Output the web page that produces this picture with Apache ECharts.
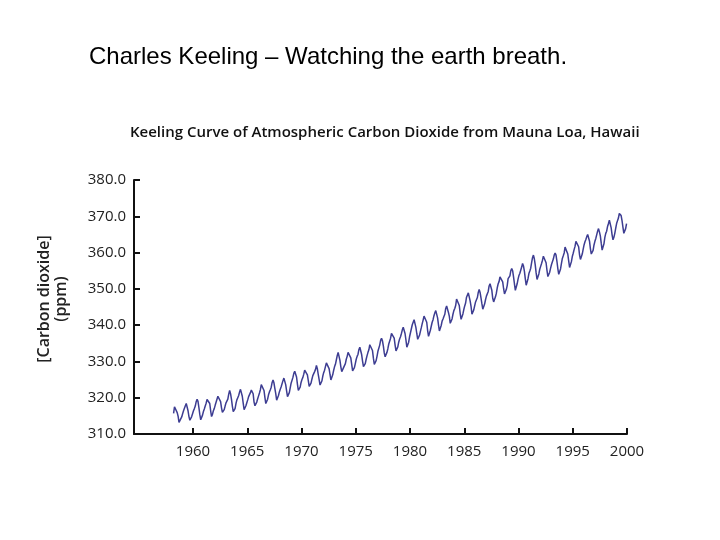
<!DOCTYPE html>
<html>
<head>
<meta charset="utf-8">
<script src="https://cdn.jsdelivr.net/npm/echarts@6/dist/echarts.min.js"></script>
<style>
html,body{margin:0;padding:0;background:#fff;}
#chart{width:720px;height:540px;}
</style>
</head>
<body>
<div id="chart"></div>
<script>
// Monthly CO2 (ppm) at Mauna Loa
const startYear = 1958;
const startMonth = 3; // first value is March 1958
const co2_1958 = [315.7, 317.5, 317.5, 317.1, 315.9, 314.9, 313.2, 312.7, 313.3, 314.7];
const co2_1959 = [315.6, 316.4, 316.7, 317.8, 318.4, 318.0, 316.4, 314.8, 313.8, 313.3, 314.8, 315.6];
const co2_1960 = [316.4, 317.0, 317.7, 318.9, 319.6, 319.0, 317.3, 315.4, 313.9, 313.9, 315.2, 316.2];
const co2_1961 = [316.9, 317.7, 318.5, 319.5, 320.0, 319.4, 318.4, 316.4, 314.8, 315.4, 316.4, 317.0];
const co2_1962 = [317.9, 318.4, 319.6, 320.4, 320.9, 320.4, 318.9, 317.2, 316.0, 315.5, 316.7, 317.7];
const co2_1963 = [318.6, 318.9, 319.6, 321.0, 322.0, 321.1, 319.6, 317.7, 316.2, 316.1, 317.0, 318.4];
const co2_1964 = [319.4, 320.0, 320.6, 321.6, 322.3, 321.9, 320.4, 318.5, 316.7, 316.7, 317.8, 318.6];
const co2_1965 = [319.4, 320.3, 320.7, 321.4, 322.1, 321.7, 321.1, 318.8, 317.8, 317.4, 318.8, 319.7];
const co2_1966 = [320.5, 321.3, 322.2, 323.6, 324.0, 323.3, 322.0, 320.1, 318.4, 318.3, 319.6, 320.8];
const co2_1967 = [321.6, 322.2, 322.9, 324.2, 324.9, 324.1, 322.6, 321.1, 319.3, 319.2, 320.6, 321.6];
const co2_1968 = [322.3, 323.0, 323.5, 324.7, 325.4, 325.1, 323.6, 321.9, 320.3, 320.3, 321.4, 322.7];
const co2_1969 = [324.0, 324.4, 325.6, 326.7, 327.3, 326.8, 325.7, 323.7, 322.0, 321.8, 322.9, 324.2];
const co2_1970 = [325.0, 325.6, 326.5, 327.6, 327.8, 327.5, 326.3, 324.7, 323.1, 323.1, 324.0, 325.1];
const co2_1971 = [326.1, 326.6, 327.2, 327.8, 328.9, 328.0, 326.4, 325.0, 323.5, 323.1, 324.6, 325.9];
const co2_1972 = [326.9, 327.6, 327.8, 329.6, 330.0, 329.2, 328.0, 326.4, 324.9, 325.1, 326.3, 327.5];
const co2_1973 = [328.5, 329.2, 330.4, 331.6, 332.5, 332.0, 330.3, 328.5, 327.2, 327.4, 328.3, 328.8];
const co2_1974 = [329.4, 330.6, 331.4, 332.5, 332.9, 332.2, 331.0, 329.2, 327.4, 327.3, 328.3, 329.4];
const co2_1975 = [330.6, 331.4, 332.0, 333.3, 333.9, 333.5, 331.9, 330.1, 328.6, 328.4, 329.4, 330.6];
const co2_1976 = [331.6, 332.5, 333.2, 334.6, 334.9, 334.3, 333.0, 330.9, 329.2, 328.9, 330.2, 331.4];
const co2_1977 = [332.8, 333.2, 334.5, 335.8, 336.4, 335.7, 334.3, 332.4, 331.3, 331.1, 332.5, 333.5];
const co2_1978 = [334.8, 335.2, 336.4, 337.7, 338.0, 337.9, 336.4, 334.5, 332.9, 332.9, 334.0, 335.3];
const co2_1979 = [336.2, 336.8, 337.7, 338.7, 339.4, 339.0, 337.7, 335.9, 333.9, 334.1, 335.3, 336.8];
const co2_1980 = [337.9, 338.4, 340.1, 340.8, 341.5, 341.3, 339.4, 337.7, 336.1, 336.0, 337.2, 338.3];
const co2_1981 = [339.3, 340.4, 341.4, 342.5, 343.0, 342.3, 340.8, 338.5, 336.9, 337.2, 338.6, 339.7];
const co2_1982 = [340.8, 341.5, 342.6, 343.4, 344.0, 343.5, 342.0, 340.1, 338.4, 338.6, 339.9, 341.1];
const co2_1983 = [341.7, 342.4, 343.0, 344.6, 345.3, 344.9, 343.5, 342.4, 340.5, 340.4, 341.7, 343.0];
const co2_1984 = [344.0, 344.6, 345.4, 347.2, 347.4, 346.7, 345.4, 343.2, 341.6, 341.5, 343.1, 344.3];
const co2_1985 = [345.3, 346.1, 347.7, 348.2, 348.9, 348.4, 346.7, 345.2, 343.0, 343.0, 344.2, 345.3];
const co2_1986 = [346.4, 347.0, 347.6, 349.0, 349.8, 349.0, 347.5, 345.9, 344.4, 344.5, 345.8, 347.0];
const co2_1987 = [348.0, 348.5, 349.3, 350.8, 351.4, 351.1, 349.6, 347.4, 346.4, 346.4, 347.8, 348.8];
const co2_1988 = [350.3, 351.4, 352.0, 353.3, 353.8, 353.0, 351.9, 350.1, 348.6, 348.6, 349.8, 350.9];
const co2_1989 = [352.8, 353.3, 353.6, 355.0, 355.6, 355.0, 353.3, 351.4, 349.6, 349.9, 351.4, 352.7];
const co2_1990 = [353.7, 354.3, 354.8, 356.0, 357.0, 356.3, 354.9, 352.8, 351.0, 351.3, 352.8, 354.2];
const co2_1991 = [354.9, 355.7, 357.2, 358.6, 359.3, 358.3, 356.6, 354.4, 352.6, 352.6, 354.1, 355.4];
const co2_1992 = [356.2, 357.0, 357.9, 359.0, 359.5, 359.0, 357.2, 355.1, 353.4, 353.4, 354.6, 355.7];
const co2_1993 = [356.7, 357.2, 358.2, 359.3, 359.9, 359.3, 357.6, 355.6, 354.0, 354.0, 355.5, 357.0];
const co2_1994 = [358.4, 359.1, 359.9, 361.5, 362.0, 361.1, 359.6, 357.7, 355.9, 356.2, 357.5, 358.9];
const co2_1995 = [359.8, 360.8, 361.7, 363.1, 363.4, 363.2, 361.6, 359.4, 358.1, 358.0, 359.6, 360.9];
const co2_1996 = [362.1, 363.0, 363.6, 364.4, 365.0, 364.6, 363.2, 361.1, 359.6, 359.3, 360.6, 362.1];
const co2_1997 = [363.1, 363.9, 364.3, 365.9, 366.6, 365.7, 364.6, 362.6, 360.7, 360.8, 362.4, 364.2];
const co2_1998 = [365.3, 365.9, 367.2, 368.0, 368.9, 368.4, 366.8, 364.9, 363.5, 364.2, 365.3, 366.7];
const co2_1999 = [368.0, 368.8, 369.5, 370.8, 370.6, 370.2, 368.8, 367.0, 365.3, 365.3, 366.6, 368.0];

const yTicks = [310, 320, 330, 340, 350, 360, 370, 380];
const xTicks = [1960, 1965, 1970, 1975, 1980, 1985, 1990, 1995, 2000];

const heading = 'Charles Keeling \u2013 Watching the earth breath.';
const chartTitle = 'Keeling Curve of Atmospheric Carbon Dioxide from Mauna Loa, Hawaii';
const yName = '[Carbon dioxide]\n(ppm)';

const monthly = [].concat(co2_1958, co2_1959, co2_1960, co2_1961, co2_1962, co2_1963, co2_1964,
  co2_1965, co2_1966, co2_1967, co2_1968, co2_1969, co2_1970, co2_1971, co2_1972, co2_1973,
  co2_1974, co2_1975, co2_1976, co2_1977, co2_1978, co2_1979, co2_1980, co2_1981, co2_1982,
  co2_1983, co2_1984, co2_1985, co2_1986, co2_1987, co2_1988, co2_1989, co2_1990, co2_1991,
  co2_1992, co2_1993, co2_1994, co2_1995, co2_1996, co2_1997, co2_1998, co2_1999);

const seriesData = monthly.map((v, i) => {
  const m = startMonth - 1 + i;
  return [startYear + (m + 0.5) / 12, v];
});

const chart = echarts.init(document.getElementById('chart'), null, {renderer: 'canvas'});
chart.setOption({
  animation: false,
  backgroundColor: '#fff',
  graphic: [
    {type: 'text', left: 89, top: 45,
     style: {text: heading, font: '24px "Liberation Sans", Arial, sans-serif', fill: '#000'}},
    {type: 'text', left: 130, top: 125,
     style: {text: chartTitle, font: '600 15px "Open Sans", sans-serif', fill: '#111'}},
    {type: 'text', x: 53, y: 299, rotation: Math.PI / 2,
     style: {text: yName, font: '600 16px "Open Sans", sans-serif', fill: '#222',
             align: 'center', verticalAlign: 'middle', lineHeight: 17}}
  ],
  grid: {left: 134, right: 93, top: 180, bottom: 106, containLabel: false},
  xAxis: {
    type: 'value', min: 1954.56, max: 2000,
    axisLine: {show: true, onZero: false, lineStyle: {color: '#111', width: 2}},
    axisTick: {show: true, inside: true, length: 6, customValues: xTicks, lineStyle: {color: '#111', width: 2}},
    axisLabel: {customValues: xTicks, color: '#222', fontSize: 15, margin: 10,
                fontFamily: '"Open Sans", sans-serif', formatter: v => String(v)},
    splitLine: {show: false}
  },
  yAxis: {
    type: 'value', min: 310, max: 380, interval: 10,
    axisLine: {show: true, lineStyle: {color: '#111', width: 2}},
    axisTick: {show: true, inside: true, length: 6, lineStyle: {color: '#111', width: 2}},
    axisLabel: {color: '#222', fontSize: 15, margin: 8,
                fontFamily: '"Open Sans", sans-serif', formatter: v => v.toFixed(1)},
    splitLine: {show: false}
  },
  series: [{
    type: 'line', data: seriesData, showSymbol: false, symbol: 'none',
    lineStyle: {color: '#3d3d92', width: 1.5}
  }]
});
</script>
</body>
</html>
